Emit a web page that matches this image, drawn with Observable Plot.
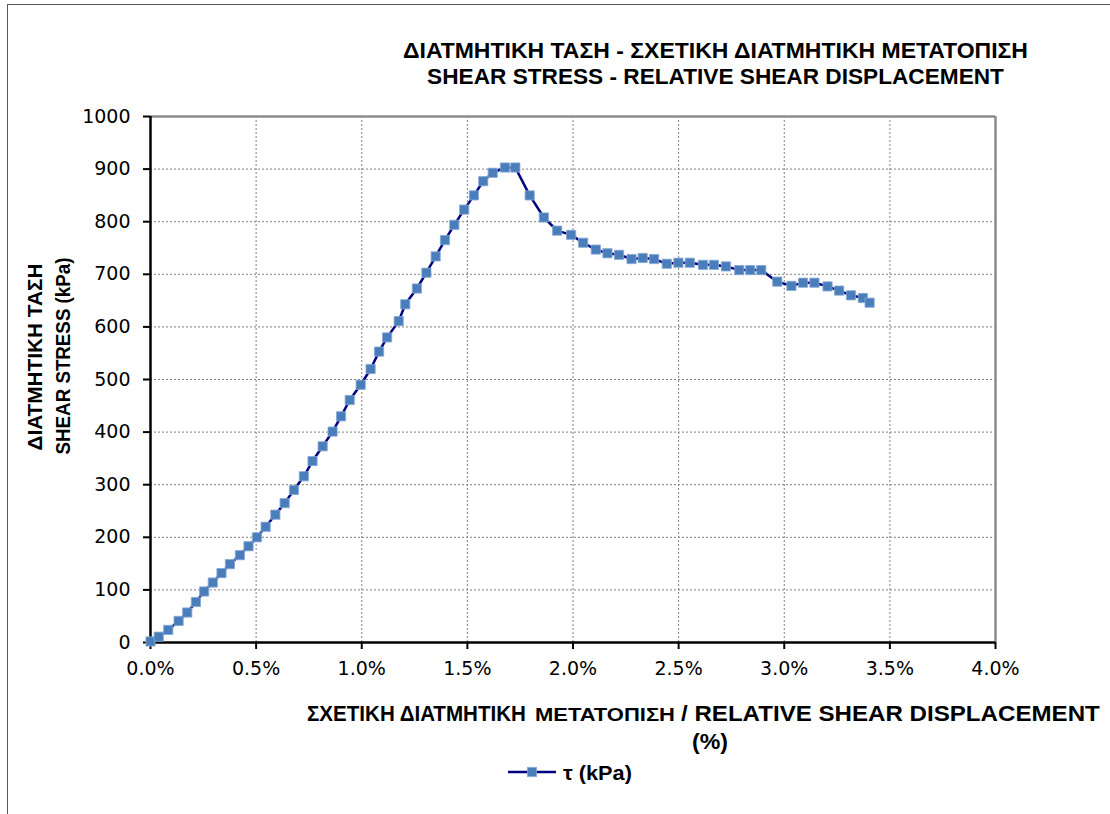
<!DOCTYPE html>
<html>
<head>
<meta charset="utf-8">
<script src="https://cdn.jsdelivr.net/npm/d3@7"></script>
<script src="https://cdn.jsdelivr.net/npm/@observablehq/plot@0.6"></script>
<style>
  html, body { margin: 0; padding: 0; background: #fff; }
  #chart { position: relative; width: 1110px; height: 814px; overflow: hidden; }
  #frame { position: absolute; left: 7px; top: 4px; width: 1200px; height: 900px;
           border-left: 1.5px solid #595959; border-top: 1.5px solid #595959; }
  #plot { position: absolute; left: 0; top: 0; }
  #notes { position: absolute; left: 0; top: 0; }
  #notes text { font-family: "Liberation Sans", Arial, sans-serif; font-weight: bold; fill: #000; }
</style>
</head>
<body>
<div id="chart">
  <div id="frame"></div>
  <div id="plot"></div>
  <svg id="notes" width="1110" height="814"></svg>
</div>
<script>
// Relative shear displacement (%) and shear stress τ (kPa) for each reading
const displacement = [0, 0.039, 0.084, 0.133, 0.174, 0.215, 0.254, 0.295, 0.336, 0.376, 0.423, 0.464,
  0.504, 0.545, 0.591, 0.635, 0.679, 0.726, 0.767, 0.815, 0.862, 0.902, 0.943, 0.995,
  1.042, 1.082, 1.120, 1.175, 1.206, 1.261, 1.306, 1.350, 1.394, 1.438, 1.485, 1.531, 1.575, 1.620, 1.678, 1.727,
  1.795, 1.862, 1.925,
  1.991, 2.048, 2.108, 2.163, 2.218, 2.277, 2.330, 2.384, 2.444, 2.499, 2.553, 2.615, 2.667, 2.724,
  2.787, 2.839, 2.891, 2.967, 3.034, 3.089, 3.143, 3.205, 3.260, 3.316, 3.372, 3.404];
const shearStress = [2, 11, 24, 41, 57, 77, 97, 114, 132, 149, 166, 183,
  200, 220, 243, 265, 290, 316, 345, 373, 401, 430, 461, 490,
  520, 553, 580, 611, 643, 673, 703, 734, 765, 794, 823, 850, 877, 893, 903, 903,
  850, 808, 783,
  775, 760, 747, 740, 737, 729, 731, 729, 720, 722, 722, 718, 718, 715,
  708, 708, 708, 686, 678, 684, 684, 677, 669, 660, 655, 646];

const xTicks = [0, 0.5, 1, 1.5, 2, 2.5, 3, 3.5, 4];
const yTicks = [0, 100, 200, 300, 400, 500, 600, 700, 800, 900, 1000];

const titleLines = ["ΔΙΑΤΜΗΤΙΚΗ ΤΑΣΗ - ΣΧΕΤΙΚΗ ΔΙΑΤΜΗΤΙΚΗ ΜΕΤΑΤΟΠΙΣΗ", "SHEAR STRESS - RELATIVE SHEAR DISPLACEMENT"];
const yLabelLines = ["ΔΙΑΤΜΗΤΙΚΗ ΤΑΣΗ", "SHEAR STRESS (kPa)"];
const xLabelParts = ["ΣΧΕΤΙΚΗ ΔΙΑΤΜΗΤΙΚΗ", "ΜΕΤΑΤΟΠΙΣΗ", "/ RELATIVE SHEAR DISPLACEMENT"];
const xLabelUnit = "(%)";
const seriesName = "τ (kPa)";

const rows = displacement.map((d, i) => ({x: d, y: shearStress[i]}));

const lineColor = "#000080";
const markerFill = "#4a7ebb";
const markerStroke = "#86a8d8";
const gridColor = "#7f7f7f";

const chart = Plot.plot({
  width: 1110,
  height: 700,
  marginLeft: 150,
  marginRight: 115,
  marginTop: 116,
  marginBottom: 58,
  style: {fontFamily: "'DejaVu Sans', Verdana, sans-serif", fontSize: "19px", color: "#000", background: "transparent"},
  x: {domain: [0, 4]},
  y: {domain: [0, 1000]},
  marks: [
    Plot.gridX(xTicks.filter(t => t > 0 && t < 4), {stroke: gridColor, strokeOpacity: 1, strokeDasharray: "2,2"}),
    Plot.gridY(yTicks.filter(t => t > 0 && t < 1000), {stroke: gridColor, strokeOpacity: 1, strokeDasharray: "2,2"}),
    Plot.ruleY([1000], {stroke: "#8c8c8c", strokeWidth: 2.5}),
    Plot.ruleX([4], {stroke: "#8c8c8c", strokeWidth: 2.5}),
    Plot.axisY({ticks: yTicks, tickSize: 7, tickPadding: 13, tickFormat: d => String(d), label: null, strokeWidth: 2}),
    Plot.axisX({ticks: xTicks, tickSize: 7, tickPadding: 12, tickFormat: d => d.toFixed(1) + "%", label: null, strokeWidth: 2}),
    Plot.ruleX([0], {stroke: "#000", strokeWidth: 2.5}),
    Plot.ruleY([0], {stroke: "#000", strokeWidth: 2.5}),
    Plot.line(rows, {x: "x", y: "y", stroke: lineColor, strokeWidth: 2.5}),
    Plot.dot(rows, {x: "x", y: "y", symbol: "square", r: 5.2, fill: markerFill, stroke: markerStroke, strokeWidth: 0.8})
  ]
});
document.getElementById("plot").append(chart);

// Headings and axis titles: each run of text is scaled horizontally to fill its box width
const notes = d3.select("#notes");
function label(str, x, y, size, len, {anchor = "start", rotate = false, baseline = "central"} = {}) {
  const t = notes.append("text").text(str)
    .attr("font-size", size)
    .attr("dominant-baseline", baseline)
    .attr("text-anchor", anchor);
  const natural = t.node().getComputedTextLength() || len;
  const sx = len / natural;
  t.attr("transform", `translate(${x},${y})${rotate ? " rotate(-90)" : ""} scale(${sx},1)`);
  return t;
}

// Title, two lines centred over the plot
label(titleLines[0], 715.5, 50, 22.5, 625, {anchor: "middle"});
label(titleLines[1], 715.5, 77, 22.5, 577, {anchor: "middle"});

// Vertical axis title, two rotated lines
label(yLabelLines[0], 35, 357, 20, 187, {anchor: "middle", rotate: true});
label(yLabelLines[1], 63, 356, 20, 197, {anchor: "middle", rotate: true});

// Horizontal axis title on a shared baseline; the middle word is set in smaller capitals
label(xLabelParts[0], 307, 721, 22.5, 219, {baseline: "auto"});
label(xLabelParts[1], 535, 721, 17.5, 140, {baseline: "auto"});
label(xLabelParts[2], 681, 721, 22.5, 419, {baseline: "auto"});
label(xLabelUnit, 710, 741, 22.5, 36, {anchor: "middle"});

// Legend: line with a square marker, then the series name
notes.append("line").attr("x1", 508).attr("x2", 556).attr("y1", 772).attr("y2", 772)
  .attr("stroke", lineColor).attr("stroke-width", 2.5);
notes.append("path").attr("d", d3.symbol(d3.symbolSquare, 5.2 * 5.2 * Math.PI)())
  .attr("transform", "translate(532,772)")
  .attr("fill", markerFill).attr("stroke", markerStroke).attr("stroke-width", 0.8);
label(seriesName, 563, 773, 21, 69);
</script>
</body>
</html>
